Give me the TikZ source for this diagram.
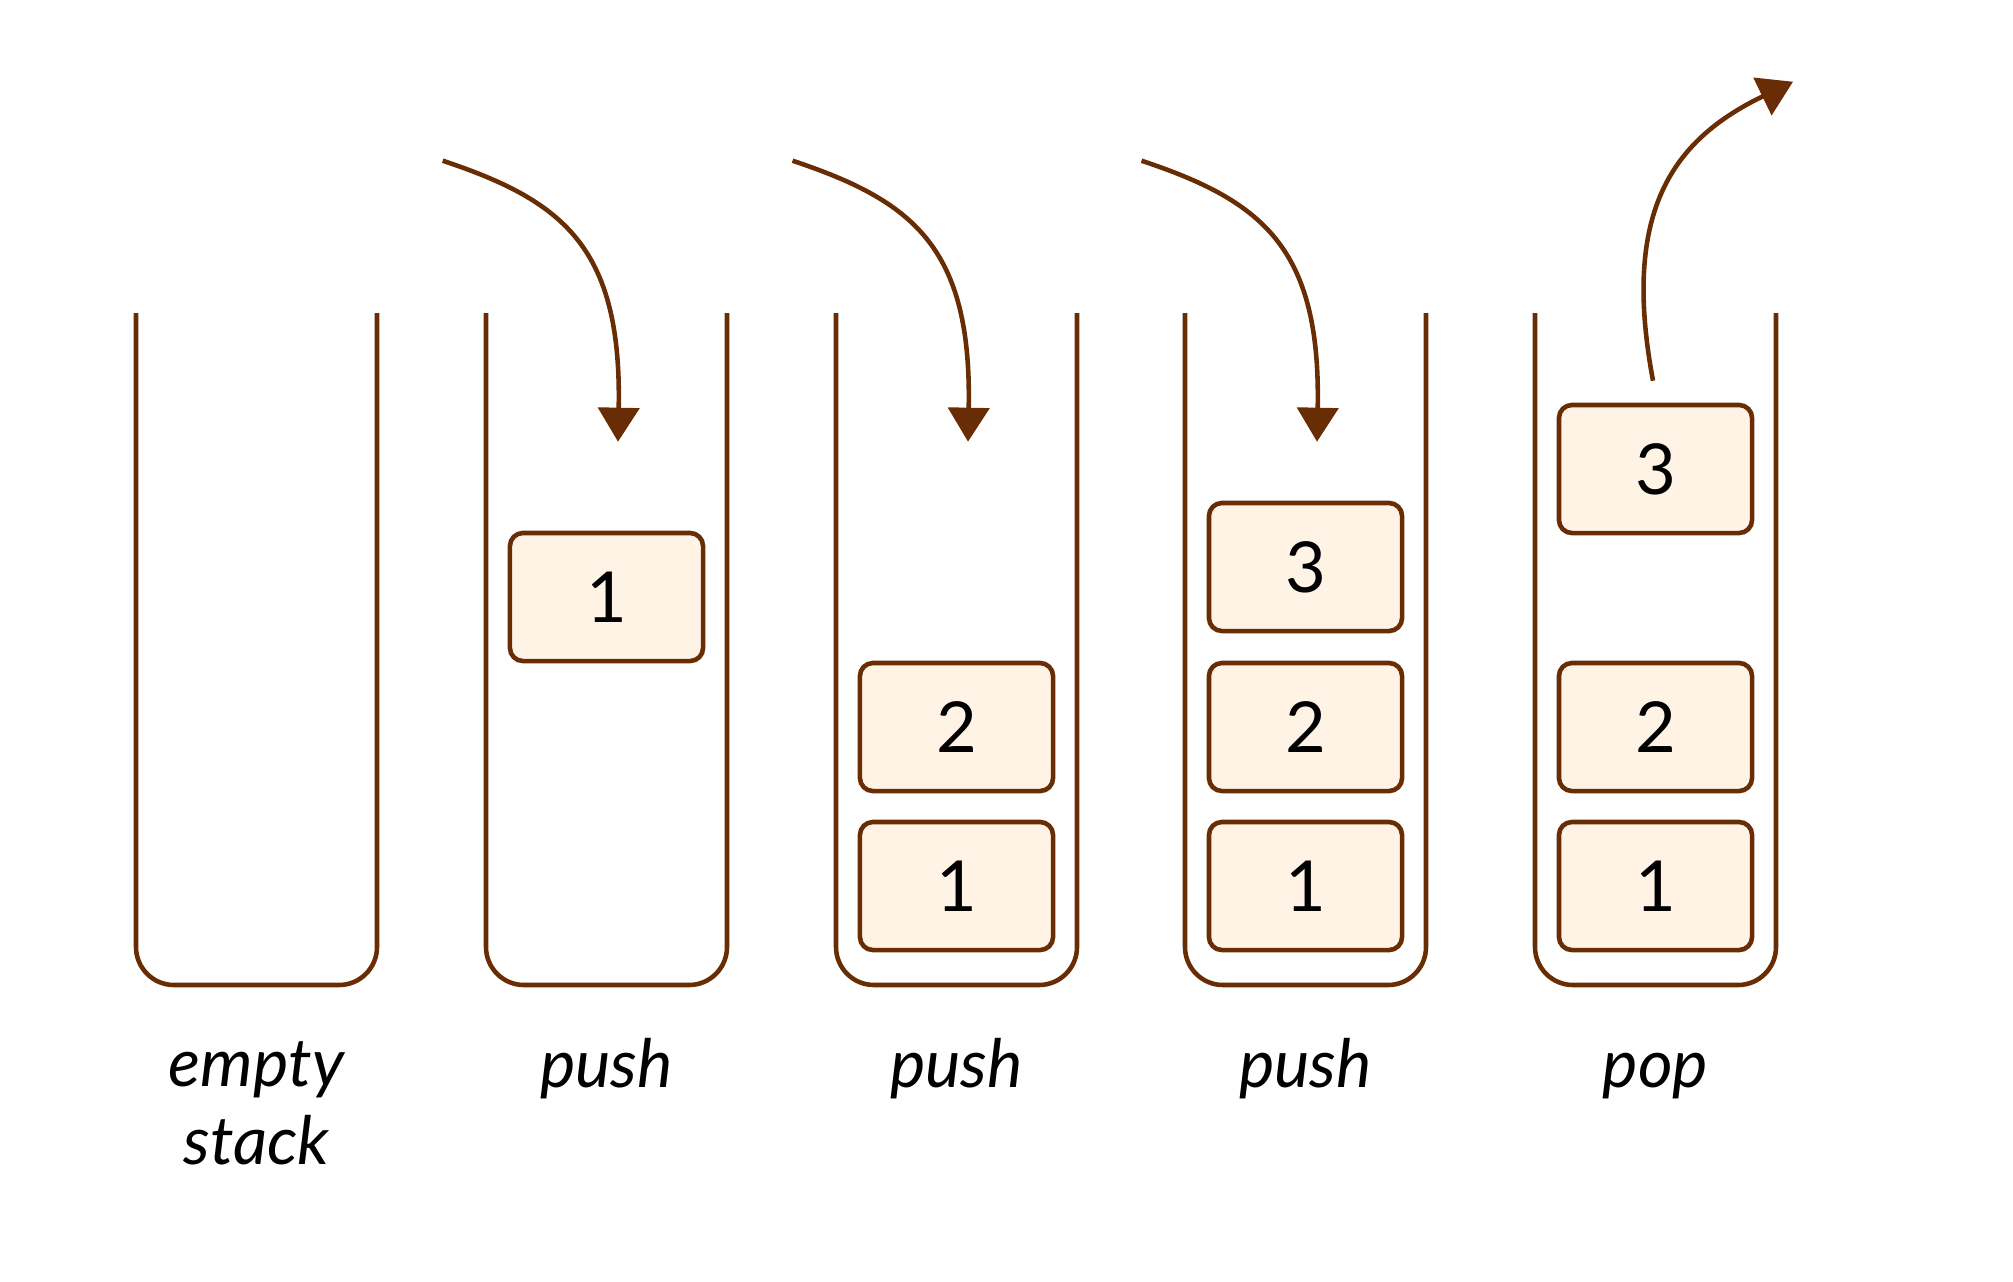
\documentclass[tikz,border=0pt]{standalone}
\usepackage{fontspec}
\setmainfont{Lato}
\usepackage{tikz}
\usetikzlibrary{arrows.meta,positioning}
\definecolor{stackbrown}{RGB}{104,45,5}
\definecolor{itemfill}{RGB}{254,243,229}

\begin{document}
\begin{tikzpicture}[
  x=0.01cm, y=-0.01cm,
  stk/.style={draw=stackbrown,line width=1.3pt,rounded corners=0.38cm},
  itm/.style={draw=stackbrown,line width=1.3pt,fill=itemfill,rounded corners=0.13cm,
    minimum width=1.93cm,minimum height=1.28cm,inner sep=0pt,font=\fontsize{20}{24}\selectfont},
  lbl/.style={anchor=base,align=center,font=\fontsize{19}{22}\selectfont\itshape},
  a/.style={draw=stackbrown,line width=1.3pt,-{Triangle[length=0.34cm,width=0.41cm]}}]
\useasboundingbox (0,0) rectangle (2013,1281);
% the five stacks
\draw[stk] (136,313) -- (136,985) -- (377,985) -- (377,313);
\draw[stk] (486,313) -- (486,985) -- (727,985) -- (727,313);
\draw[stk] (836,313) -- (836,985) -- (1077,985) -- (1077,313);
\draw[stk] (1185,313) -- (1185,985) -- (1426,985) -- (1426,313);
\draw[stk] (1535,313) -- (1535,985) -- (1776,985) -- (1776,313);
% items
\node[itm] (p1a) at (606.5,597) {1};
\node[itm] (p2a) at (956.5,886) {1};
\node[itm] (p2b) at (956.5,727) {2};
\node[itm] (p3a) at (1305.5,886) {1};
\node[itm] (p3b) at (1305.5,727) {2};
\node[itm] (p3c) at (1305.5,567) {3};
\node[itm] (p4a) at (1655.5,886) {1};
\node[itm] (p4b) at (1655.5,727) {2};
\node[itm] (p4c) at (1655.5,469) {3};
% labels (base = last line)
\node[lbl] (l0) at (256.5,1164) {empty\\stack};
\node[lbl] (l1) at (606.5,1087) {push};
\node[lbl] (l2) at (956.5,1087) {push};
\node[lbl] (l3) at (1305.5,1087) {push};
\node[lbl] (l4) at (1655.5,1087) {pop};
% arrows
\coordinate (s1) at (442.7,160.7);
\coordinate (t1) at (618,441.7);
\coordinate (s2) at (792.5,160.7);
\coordinate (t2) at (968,441.7);
\coordinate (s3) at (1141.5,160.7);
\coordinate (t3) at (1317,441.7);
\coordinate (s4) at (1653,380.7);
\coordinate (t4) at (1793,81.7);
\draw[a] (s1) .. controls +(120,40) and +(4,-195) .. (t1);
\draw[a] (s2) .. controls +(120,40) and +(4,-195) .. (t2);
\draw[a] (s3) .. controls +(120,40) and +(4,-195) .. (t3);
\draw[a] (s4) .. controls +(-32,-170) and +(-120,58) .. (t4);
\end{tikzpicture}
\end{document}
